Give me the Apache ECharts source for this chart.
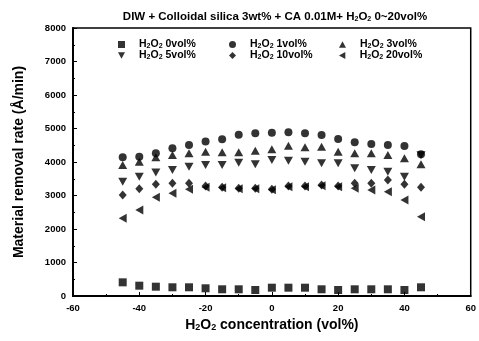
<!DOCTYPE html>
<html><head><meta charset="utf-8">
<script src="https://cdn.jsdelivr.net/npm/echarts@6/dist/echarts.min.js"></script>
<style>html,body{margin:0;padding:0;background:#fff}#c{width:479px;height:341px}</style>
</head><body><div id="c"></div>
<script>
const xVals = [-45,-40,-35,-30,-25,-20,-15,-10,-5,0,5,10,15,20,25,30,35,40,45];
const names = ['H2O2 0vol%','H2O2 1vol%','H2O2 3vol%','H2O2 5vol%','H2O2 10vol%','H2O2 20vol%'];
const s0 = [408,308,278,260,260,230,200,200,179,248,248,248,200,179,200,200,200,179,260];
const s1 = [4140,4160,4260,4410,4510,4610,4680,4810,4860,4875,4887,4857,4806,4690,4590,4540,4510,4480,4230];
const s3 = [3910,4009,4140,4209,4260,4308,4290,4290,4337,4379,4487,4439,4457,4308,4260,4260,4209,4110,3931];
const s5 = [3412,3561,3687,3761,3860,3910,3910,3979,3931,4060,4039,4009,3961,3961,3812,3761,3710,3561,4200];
const s10 = [3015,3200,3334,3364,3364,3283,3245,3215,3215,3185,3283,3283,3310,3283,3364,3364,3463,3334,3245];
const s20 = [2319,2567,2946,3066,3185,3250,3230,3200,3200,3170,3260,3260,3290,3260,3215,3164,3114,2866,2367];
const yTicks = [0,1000,2000,3000,4000,5000,6000,7000,8000];
const xTicks = [-60,-40,-20,0,20,40,60];

const DOWN = 'path://M0,0L10,0L5,9Z';
const LEFT = 'path://M9,0L0,5L9,10Z';
const UP = 'path://M5,0L10,9L0,9Z';
const symbols = ['rect','circle',UP,DOWN,'diamond',LEFT];
const sizes = [[8,8],8,[9,8],[9,8],[8,9],[8,9]];
const allData = [s0,s1,s3,s5,s10,s20];

const FONT = '"Liberation Sans", Arial, sans-serif';
const sub = {fontSize: 7, fontWeight: 'bold', fontFamily: FONT, verticalAlign: 'bottom', padding: [4,0,0,0], color: '#000'};

const series = names.map((n, i) => ({
  name: n, type: 'scatter', symbol: symbols[i], symbolSize: sizes[i],
  itemStyle: {color: '#000'},
  data: xVals.map((x, j) => [x, allData[i][j]])
}));

const legendPos = [[118,39],[229,39],[339,39],[118,50],[229,50],[339,50]];
const legends = names.map((n, i) => ({
  data: [{name: n, icon: symbols[i]}],
  left: legendPos[i][0], top: legendPos[i][1],
  itemWidth: 7, itemHeight: 7, padding: 0,
  formatter: nm => nm.replace('H2O2', 'H{s|2}O{s|2}'),
  textStyle: {fontSize: 10.5, fontWeight: 'bold', fontFamily: FONT, color: '#000',
    padding: [0, 0, 0, 9], rich: {s: sub}},
  itemStyle: {color: '#000'}
}));

const labelStyle = {fontSize: 9.5, fontWeight: 'bold', fontFamily: FONT, color: '#000', margin: 7};

const option = {
  backgroundColor: '#fff',
  animation: false,
  title: {
    text: 'DIW + Colloidal silica 3wt% + CA 0.01M+ H{s|2}O{s|2} 0~20vol%',
    left: 270, top: 6, textAlign: 'center',
    textStyle: {fontSize: 11.5, fontWeight: 'bold', fontFamily: FONT, color: '#000', rich: {s: sub}}
  },
  legend: legends,
  grid: {left: 73, right: 7, top: 28, bottom: 45, show: true, borderColor: '#000', borderWidth: 1.5},
  xAxis: {
    type: 'value', min: xTicks[0], max: xTicks[xTicks.length-1], interval: 20,
    name: 'H{s|2}O{s|2} concentration (vol%)', nameLocation: 'middle', nameGap: 22,
    nameTextStyle: {fontSize: 14, fontWeight: 'bold', fontFamily: FONT, color: '#000',
      rich: {s: {fontSize: 9, fontWeight: 'bold', fontFamily: FONT, verticalAlign: 'bottom', padding: [5,0,0,0], color: '#000'}}},
    axisLine: {show: true, lineStyle: {color: '#000', width: 2}},
    axisTick: {inside: true, length: 4, lineStyle: {color: '#000'}},
    minorTick: {show: true, splitNumber: 2, length: 2, lineStyle: {color: '#000'}},
    axisLabel: labelStyle,
    splitLine: {show: false}
  },
  yAxis: {
    type: 'value', min: yTicks[0], max: yTicks[yTicks.length-1], interval: 1000,
    name: 'Material removal rate (Å/min)', nameLocation: 'middle', nameGap: 47,
    nameTextStyle: {fontSize: 14, fontWeight: 'bold', fontFamily: FONT, color: '#000'},
    axisLine: {show: true, onZero: false, lineStyle: {color: '#000', width: 2}},
    axisTick: {inside: true, length: 4, lineStyle: {color: '#000'}},
    minorTick: {show: true, splitNumber: 2, length: 2, lineStyle: {color: '#000'}},
    axisLabel: Object.assign({}, labelStyle, {formatter: v => String(v)}),
    splitLine: {show: false}
  },
  series: series
};
const chart = echarts.init(document.getElementById('c'), null, {renderer: 'canvas'});
chart.setOption(option);
</script></body></html>
